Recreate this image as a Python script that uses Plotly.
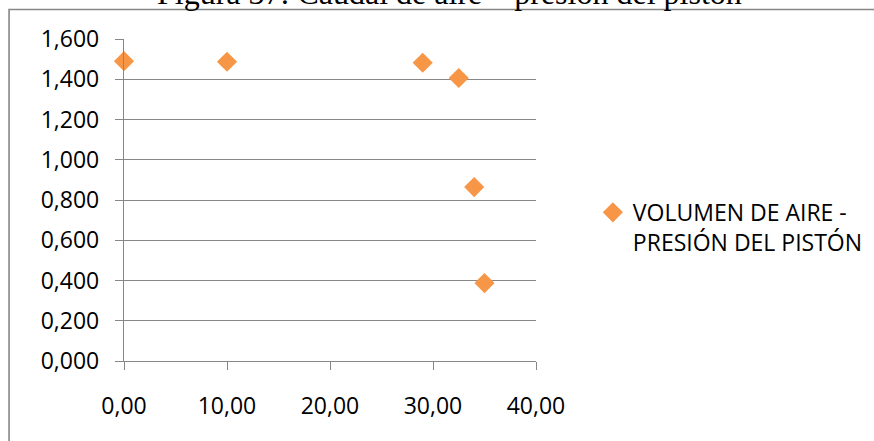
import plotly.graph_objects as go

# Caudal de aire vs presión del pistón
volumen_aire = [0.0, 10.0, 29.0, 32.5, 34.0, 35.0]
presion_piston = [1.490, 1.487, 1.482, 1.406, 0.864, 0.387]

serie_nombre = "VOLUMEN DE AIRE -<br>PRESIÓN DEL PISTÓN"
titulo = "Figura 37: Caudal de aire – presión del pistón"

x_ticks = [0, 10, 20, 30, 40]
y_ticks = [0.0, 0.2, 0.4, 0.6, 0.8, 1.0, 1.2, 1.4, 1.6]

naranja = "#F79646"
gris = "#878787"
fuente = "Open Sans"

fig = go.Figure()
fig.add_trace(go.Scatter(
    x=volumen_aire,
    y=presion_piston,
    mode="markers",
    name=serie_nombre,
    marker=dict(symbol="diamond", size=15.5, color=naranja, line=dict(width=0)),
    cliponaxis=False,
))

fig.update_layout(
    width=874,
    height=441,
    autosize=False,
    margin=dict(l=124, r=338, t=39, b=80, autoexpand=False),
    paper_bgcolor="white",
    plot_bgcolor="white",
    separators=",.",
    font=dict(family=fuente, size=23, color="black"),
    showlegend=True,
    legend=dict(
        x=1.138, xanchor="left",
        y=0.415, yanchor="middle",
        valign="top",
        font=dict(family=fuente, size=23, color="black"),
        bgcolor="rgba(0,0,0,0)",
        tracegroupgap=0,
    ),
    xaxis=dict(
        range=[0, 40],
        tickvals=x_ticks,
        tickformat=".2f",
        showgrid=False,
        zeroline=False,
        showline=True,
        linecolor=gris,
        linewidth=1.3,
        ticks="outside",
        ticklen=8,
        tickcolor=gris,
        tickwidth=1.3,
        ticklabelstandoff=16,
        tickfont=dict(family=fuente, size=23, color="black"),
    ),
    yaxis=dict(
        range=[0, 1.6],
        tickvals=y_ticks,
        tickformat=".3f",
        showgrid=True,
        gridcolor=gris,
        gridwidth=1.3,
        zeroline=False,
        showline=True,
        linecolor=gris,
        linewidth=1.3,
        ticks="outside",
        ticklen=8,
        tickcolor=gris,
        tickwidth=1.3,
        ticklabelstandoff=11,
        tickfont=dict(family=fuente, size=23, color="black"),
    ),
    annotations=[dict(
        text=titulo,
        xref="paper", yref="paper",
        x=0.79, xanchor="center",
        y=1.143, yanchor="middle",
        showarrow=False,
        font=dict(family="Liberation Serif", size=32, color="black"),
    )],
    shapes=[dict(
        type="rect",
        xref="paper", yref="paper",
        x0=-0.279, x1=3.0,
        y0=-2.0, y1=1.0916,
        line=dict(color=gris, width=1.6),
        fillcolor="rgba(0,0,0,0)",
        layer="below",
    )],
)

fig.write_html("out.html")
